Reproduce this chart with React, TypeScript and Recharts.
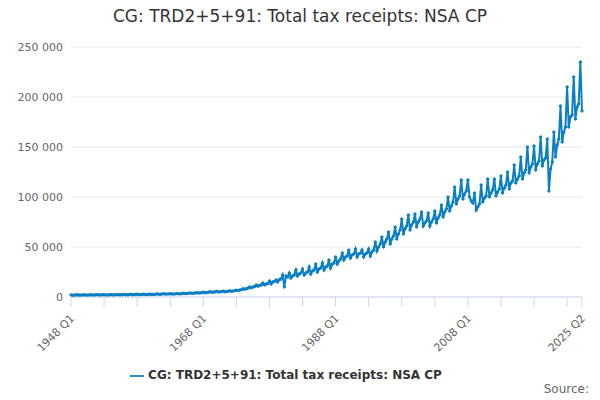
import React from "react";
import { LineChart, Line, XAxis, YAxis, CartesianGrid, Legend } from "recharts";

const SERIES_NAME = "CG: TRD2+5+91: Total tax receipts: NSA CP";
const START_YEAR = 1948;

// quarterly values, one row per year (Q1..Q4)
const receipts: number[] = [
  2100, 1800, 1900, 2000,
  2200, 1850, 1900, 2000,
  2200, 1900, 1950, 2050,
  2300, 2000, 2050, 2100,
  2400, 2000, 2100, 2150,
  2400, 2050, 2100, 2150,
  2450, 2100, 2150, 2200,
  2550, 2150, 2200, 2250,
  2600, 2200, 2300, 2350,
  2700, 2300, 2400, 2450,
  2800, 2400, 2450, 2500,
  2850, 2450, 2500, 2550,
  2900, 2500, 2600, 2650,
  3100, 2700, 2800, 2900,
  3300, 2900, 3000, 3050,
  3300, 2950, 3050, 3100,
  3500, 3100, 3200, 3300,
  3800, 3400, 3500, 3600,
  4100, 3700, 3800, 3900,
  4500, 3900, 4100, 4200,
  4900, 4300, 4500, 4600,
  5400, 4700, 4900, 5000,
  5700, 5000, 5200, 5300,
  5900, 5300, 5500, 5700,
  6200, 5700, 6000, 6300,
  6800, 6500, 6900, 7300,
  8200, 7800, 8300, 8800,
  10000, 9200, 10000, 10500,
  12000, 10800, 11500, 12000,
  14000, 12000, 13000, 13500,
  16000, 13000, 15000, 15500,
  17000, 15000, 17500, 18000,
  22000, 10000, 21000, 20000,
  24000, 19000, 21000, 22000,
  27000, 21000, 23000, 24000,
  28000, 22000, 24000, 25000,
  30000, 23000, 26000, 27000,
  33000, 25000, 28000, 29000,
  34000, 27000, 30000, 31000,
  37000, 29000, 33000, 34000,
  40000, 33000, 36000, 38000,
  44000, 37000, 40000, 41000,
  47000, 39000, 42000, 43000,
  48000, 40000, 43000, 44000,
  47000, 40000, 43000, 44000,
  48000, 41000, 45000, 47000,
  55000, 46000, 50000, 53000,
  60000, 50000, 55000, 58000,
  65000, 53000, 58000, 61000,
  70000, 58000, 63000, 67000,
  78000, 63000, 68000, 71000,
  82000, 67000, 72000, 75000,
  83000, 70000, 75000, 78000,
  85000, 71000, 74000, 76000,
  84000, 71000, 75000, 78000,
  86000, 74000, 79000, 82000,
  92000, 80000, 85000, 88000,
  100000, 86000, 91000, 95000,
  110000, 93000, 98000, 101000,
  117000, 98000, 103000, 106000,
  117000, 100000, 96000, 94000,
  104000, 87000, 90000, 93000,
  112000, 95000, 99000, 101000,
  118000, 100000, 104000, 107000,
  118000, 101000, 105000, 108000,
  121000, 104000, 109000, 112000,
  125000, 108000, 114000, 116000,
  132000, 114000, 118000, 121000,
  140000, 118000, 124000, 127000,
  150000, 124000, 130000, 133000,
  151000, 127000, 133000, 136000,
  160000, 131000, 137000, 139000,
  158000, 106000, 128000, 135000,
  165000, 140000, 152000, 158000,
  191000, 155000, 165000, 170000,
  210000, 170000, 180000, 182000,
  220000, 178000, 190000, 193000,
  235000, 186000,
];

const LABELED = ["1948 Q1", "1968 Q1", "1988 Q1", "2008 Q1", "2025 Q2"];
const Y_TICKS = [0, 50000, 100000, 150000, 200000, 250000];

const data = receipts.map((v, i) => ({
  q: `${START_YEAR + Math.floor(i / 4)} Q${(i % 4) + 1}`,
  value: v,
}));

const xTicks = data.filter((_, i) => i % 20 === 0).map((d) => d.q);
xTicks.push(data[data.length - 1].q);

const fmt = (v: number) => v.toLocaleString("en-US").replace(/,/g, " ");

const XTick = (props: any) => {
  const { x, y, payload } = props;
  if (!LABELED.includes(payload.value)) return null;
  return (
    <text
      x={x + 4}
      y={y + 10}
      transform={`rotate(-45 ${x + 4} ${y + 10})`}
      textAnchor="end"
      fill="#666"
      fontSize={11}
    >
      {payload.value}
    </text>
  );
};

export default function App() {
  return (
    <div
      style={{
        position: "absolute",
        left: 0,
        top: 0,
        width: 600,
        height: 400,
        background: "#fff",
        fontFamily: "'DejaVu Sans', sans-serif",
      }}
    >
      <div
        style={{
          position: "absolute",
          top: 6,
          width: "100%",
          textAlign: "center",
          fontSize: 17,
          color: "#333",
        }}
      >
        {SERIES_NAME}
      </div>
      <LineChart
        width={600}
        height={400}
        data={data}
        margin={{ top: 47, right: 18, bottom: 12, left: 0 }}
      >
        <CartesianGrid vertical={false} stroke="#e6e6e6" />
        <XAxis
          dataKey="q"
          ticks={xTicks}
          interval={0}
          tick={<XTick />}
          tickLine={{ stroke: "#ccd6eb" }}
          tickSize={10}
          axisLine={{ stroke: "#ccd6eb" }}
          height={71}
        />
        <YAxis
          domain={[0, 250000]}
          ticks={Y_TICKS}
          tickFormatter={fmt}
          axisLine={false}
          tickLine={false}
          width={71}
          tick={{ fill: "#666", fontSize: 11 }}
        />
        <Legend
          verticalAlign="bottom"
          height={20}
          iconType="plainline"
          wrapperStyle={{ fontSize: 12, fontWeight: "bold", color: "#333" }}
          formatter={(v) => <span style={{ color: "#333" }}>{v}</span>}
        />
        <Line
          name={SERIES_NAME}
          dataKey="value"
          stroke="#0a7fc4"
          strokeWidth={2}
          dot={{ r: 1.2, fill: "#0a7fc4", stroke: "#0a7fc4", strokeWidth: 1 }}
          isAnimationActive={false}
        />
      </LineChart>
      <div style={{ position: "absolute", right: 11, bottom: 4, fontSize: 12, color: "#666" }}>
        Source:
      </div>
    </div>
  );
}
